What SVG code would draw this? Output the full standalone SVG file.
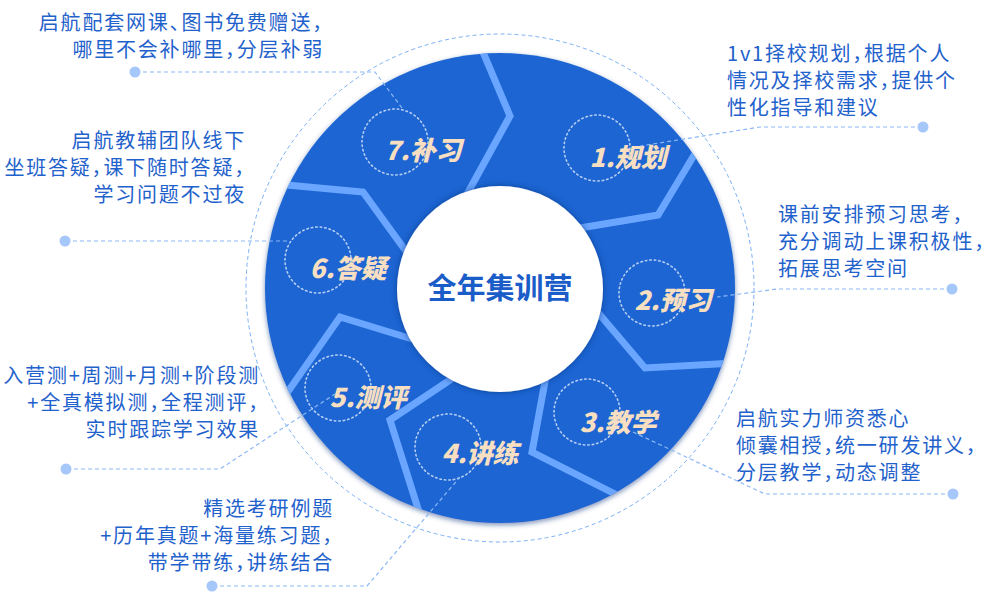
<svg xmlns="http://www.w3.org/2000/svg" width="989" height="596" viewBox="0 0 989 596">
<defs>
<filter id="ringShadow" x="-10%" y="-10%" width="120%" height="120%">
<feDropShadow dx="0" dy="2" stdDeviation="2.5" flood-color="#0a3580" flood-opacity="0.55"/>
</filter>
<filter id="innerShadow" x="-20%" y="-20%" width="140%" height="140%">
<feDropShadow dx="0" dy="0" stdDeviation="3" flood-color="#0a3580" flood-opacity="0.7"/>
</filter>
<clipPath id="ringClip"><circle cx="500" cy="288" r="235"/></clipPath>
<style>
.desc{font-family:"Noto Sans CJK SC","Noto Sans",sans-serif;font-size:20px;fill:#1f62cc;font-feature-settings:"halt";letter-spacing:1.8px}
.l{text-anchor:start}
.r{text-anchor:end}
.lbl{font-family:"Noto Sans CJK SC",sans-serif;font-weight:900;font-style:italic;font-size:26px;fill:#f8dfc1;text-anchor:middle}
.dc{fill:none;stroke:#e8f0ff;stroke-opacity:0.75;stroke-width:1.6;stroke-dasharray:1.5 3;stroke-linecap:round}
.div{fill:none;stroke:#6aa6ff;stroke-width:7;stroke-linejoin:miter}
.conn{fill:none;stroke:#8cb7f6;stroke-width:1.2;stroke-dasharray:4 3}
.dot{fill:#a6c7fa}
.center{font-family:"Noto Sans CJK SC",sans-serif;font-weight:700;font-size:29px;fill:#1a5cc8;text-anchor:middle}
</style>
</defs>
<rect width="989" height="596" fill="#ffffff"/>

<g id="ring">
<circle cx="500" cy="288" r="254" fill="none" stroke="#7ab0f5" stroke-width="1" stroke-dasharray="4 3"/>
<circle cx="500" cy="288" r="235" fill="#1e65d2" filter="url(#ringShadow)"/>
<g clip-path="url(#ringClip)">
<polyline class="div" points="480,45 510,116 466,196"/>
<polyline class="div" points="702,142 658,215 580,228"/>
<polyline class="div" points="595,309 645,368 735,363"/>
<polyline class="div" points="546,376 532,452 621,497"/>
<polyline class="div" points="456,376 390,420 420,515"/>
<polyline class="div" points="412,339 340,317 280,403"/>
<polyline class="div" points="276,184 363,192 408,254"/>
</g>
<circle cx="500" cy="289" r="103" fill="#ffffff" filter="url(#innerShadow)"/>
<text class="center" x="500" y="299">全年集训营</text>
</g>

<g id="node1">
<circle class="dc" cx="597" cy="148" r="33"/>
<text class="lbl" x="628" y="167">1.规划</text>
<text class="desc l" x="727" y="61">1v1择校规划，根据个人</text>
<text class="desc l" x="727" y="88">情况及择校需求，提供个</text>
<text class="desc l" x="727" y="115">性化指导和建议</text>
<circle class="dot" cx="923" cy="127" r="5.5"/>
</g>

<g id="node2">
<circle class="dc" cx="652" cy="293" r="33"/>
<text class="lbl" x="673" y="310">2.预习</text>
<text class="desc l" x="778" y="222">课前安排预习思考，</text>
<text class="desc l" x="778" y="249">充分调动上课积极性，</text>
<text class="desc l" x="778" y="276">拓展思考空间</text>
<circle class="dot" cx="952" cy="289" r="5.5"/>
</g>

<g id="node3">
<circle class="dc" cx="587" cy="412" r="33"/>
<text class="lbl" x="618" y="432">3.教学</text>
<text class="desc l" x="736" y="426">启航实力师资悉心</text>
<text class="desc l" x="736" y="453">倾囊相授，统一研发讲义，</text>
<text class="desc l" x="736" y="480">分层教学，动态调整</text>
<circle class="dot" cx="953" cy="494" r="5.5"/>
</g>

<g id="node4">
<circle class="dc" cx="448" cy="447" r="33"/>
<text class="lbl" x="480" y="463">4.讲练</text>
<text class="desc r" x="334" y="516">精选考研例题</text>
<text class="desc r" x="334" y="543">+历年真题+海量练习题，</text>
<text class="desc r" x="334" y="570">带学带练，讲练结合</text>
<circle class="dot" cx="212" cy="586" r="5.5"/>
</g>

<g id="node5">
<circle class="dc" cx="338" cy="388" r="33"/>
<text class="lbl" x="368" y="407">5.测评</text>
<text class="desc r" x="260" y="383">入营测+周测+月测+阶段测</text>
<text class="desc r" x="260" y="410">+全真模拟测，全程测评，</text>
<text class="desc r" x="260" y="437">实时跟踪学习效果</text>
<circle class="dot" cx="66" cy="469" r="5.5"/>
</g>

<g id="node6">
<circle class="dc" cx="318" cy="260" r="33"/>
<text class="lbl" x="348" y="278">6.答疑</text>
<text class="desc r" x="246" y="148">启航教辅团队线下</text>
<text class="desc r" x="246" y="175">坐班答疑，课下随时答疑，</text>
<text class="desc r" x="246" y="202">学习问题不过夜</text>
<circle class="dot" cx="65" cy="241" r="5.5"/>
</g>

<g id="node7">
<circle class="dc" cx="395" cy="142" r="33"/>
<text class="lbl" x="423" y="160">7.补习</text>
<text class="desc r" x="324" y="30">启航配套网课、图书免费赠送，</text>
<text class="desc r" x="324" y="57">哪里不会补哪里，分层补弱</text>
<circle class="dot" cx="135" cy="72" r="5.5"/>
</g>

<g id="connectors">
<polyline class="conn" points="143,72 375,72 402,108"/>
<polyline class="conn" points="73,241 288,241"/>
<polyline class="conn" points="915,127 760,127 640,146"/>
<polyline class="conn" points="944,289 777,289 717,297"/>
<polyline class="conn" points="945,494 765,494 633,432"/>
<polyline class="conn" points="220,586 367,586 460,477"/>
<polyline class="conn" points="74,469 220,469 335,394"/>
</g>
</svg>
